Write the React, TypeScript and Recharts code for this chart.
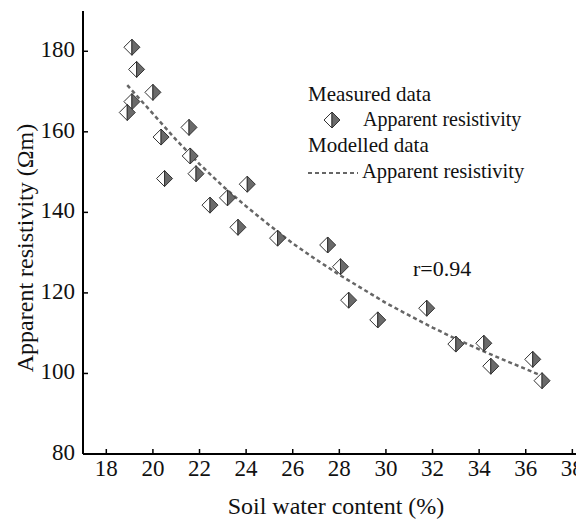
import React from 'react';
import { ComposedChart, XAxis, YAxis, Line, Scatter, Legend, Customized } from 'recharts';

// Measured data (soil water content %, apparent resistivity Ωm)
const measuredX = [19.1, 19.3, 19.1, 18.9, 20.0, 20.35, 20.5, 21.55, 21.6, 21.85, 22.45, 23.2, 23.65, 24.05, 25.35, 27.5, 28.05, 28.4, 29.65, 31.75, 33.0, 34.2, 34.5, 36.3, 36.7];
const measuredY = [181.0, 175.5, 167.5, 164.8, 169.8, 158.7, 148.4, 161.1, 154.0, 149.6, 141.8, 143.6, 136.3, 147.0, 133.6, 131.9, 126.5, 118.2, 113.3, 116.2, 107.3, 107.5, 101.8, 103.5, 98.2];

// Modelled curve
const modelX = [18.9, 20, 21, 22, 23, 24, 25, 26, 27, 28, 29, 30, 31, 32, 33, 34, 35, 36, 36.6];
const modelY = [171.6, 164.5, 158.0, 152.0, 146.5, 141.5, 136.8, 132.3, 128.3, 124.5, 121.0, 117.5, 114.4, 111.4, 108.6, 106.0, 103.5, 101.1, 99.6];

const xTicks = [18, 20, 22, 24, 26, 28, 30, 32, 34, 36, 38];
const yTicks = [80, 100, 120, 140, 160, 180];

const measured = measuredX.map((x, i) => ({ x, y: measuredY[i] }));
const model = modelX.map((x, i) => ({ x, y: modelY[i] }));

const FONT = '"Liberation Serif", "Times New Roman", serif';

const Diamond = (props: any) => {
  const { cx, cy } = props;
  const r = 8;
  return (
    <g>
      <path d={`M${cx},${cy - r} L${cx - r},${cy} L${cx},${cy + r} Z`} fill="#ffffff" stroke="#333" strokeWidth={1} />
      <path d={`M${cx},${cy - r} L${cx + r},${cy} L${cx},${cy + r} Z`} fill="#6a6a6a" stroke="#333" strokeWidth={1} />
    </g>
  );
};

const BottomTick = (props: any) => {
  const { x, y, payload } = props;
  return (
    <g>
      <line x1={x} x2={x} y1={y} y2={y - 5} stroke="#000" strokeWidth={1.5} />
      <text x={x} y={y + 22} textAnchor="middle" fontFamily={FONT} fontSize={23} fill="#111">{payload.value}</text>
    </g>
  );
};

const TopTick = (props: any) => {
  const { x, y } = props;
  return <line x1={x} x2={x} y1={y} y2={y + 5} stroke="#000" strokeWidth={1.5} />;
};

const LeftTick = (props: any) => {
  const { x, y, payload } = props;
  return (
    <g>
      <line x1={x} x2={x + 5} y1={y} y2={y} stroke="#000" strokeWidth={1.5} />
      <text x={x - 8} y={y + 6} textAnchor="end" fontFamily={FONT} fontSize={23} fill="#111">{payload.value}</text>
    </g>
  );
};

const LegendContent = () => (
  <svg width={276} height={120} style={{ display: 'block', overflow: 'visible' }}>
    <text x={8} y={23} fontFamily={FONT} fontSize={21} fill="#111">Measured data</text>
    <Diamond cx={32} cy={42} />
    <text x={63} y={48} fontFamily={FONT} fontSize={20} fill="#111">Apparent resistivity</text>
    <text x={8} y={74} fontFamily={FONT} fontSize={21} fill="#111">Modelled data</text>
    <line x1={8} x2={58} y1={95} y2={95} stroke="#666" strokeWidth={2} strokeDasharray="4 3" />
    <text x={62} y={100} fontFamily={FONT} fontSize={20.5} fill="#111">Apparent resistivity</text>
  </svg>
);

const Texts = () => (
  <g>
    <text x={405} y={268} fontFamily={FONT} fontSize={22} fill="#111">r=0.94</text>
    <text x={328} y={506} textAnchor="middle" fontFamily={FONT} fontSize={24} fill="#111">Soil water content (%)</text>
    <text x={0} y={0} transform="translate(25,240) rotate(-90)" textAnchor="middle" fontFamily={FONT} fontSize={24} fill="#111">Apparent resistivity (Ωm)</text>
  </g>
);

export default function App() {
  return (
    <div style={{ width: 576, height: 516, position: 'relative', overflow: 'hidden' }}>
      <ComposedChart width={576} height={516} margin={{ top: 3, right: 0, bottom: 0, left: 0 }}>
        <XAxis
          dataKey="x"
          type="number"
          domain={[17, 38.5]}
          ticks={xTicks}
          allowDataOverflow
          height={70}
          tickSize={0}
          tickMargin={0}
          tick={<BottomTick />}
          axisLine={{ stroke: '#000', strokeWidth: 2 }}
          tickLine={false}
        />
        <XAxis
          xAxisId="top"
          orientation="top"
          type="number"
          domain={[17, 38.5]}
          ticks={xTicks}
          allowDataOverflow
          height={0}
          tickSize={0}
          tickMargin={0}
          tick={<TopTick />}
          axisLine={{ stroke: '#000', strokeWidth: 2 }}
          tickLine={false}
        />
        <YAxis
          type="number"
          domain={[80, 190]}
          ticks={yTicks}
          allowDataOverflow
          width={75}
          tickSize={0}
          tickMargin={0}
          tick={<LeftTick />}
          axisLine={{ stroke: '#000', strokeWidth: 2 }}
          tickLine={false}
        />
        <Line
          data={model}
          dataKey="y"
          type="linear"
          stroke="#666"
          strokeWidth={2.5}
          strokeDasharray="4 3"
          dot={false}
          activeDot={false}
          isAnimationActive={false}
        />
        <Scatter data={measured} dataKey="y" shape={<Diamond />} isAnimationActive={false} />
        <Legend
          layout="horizontal"
          verticalAlign="middle"
          align="center"
          content={<LegendContent />}
          wrapperStyle={{ position: 'absolute', left: 292, top: 70, width: 276, height: 120 }}
        />
        <Customized component={<Texts />} />
      </ComposedChart>
    </div>
  );
}
